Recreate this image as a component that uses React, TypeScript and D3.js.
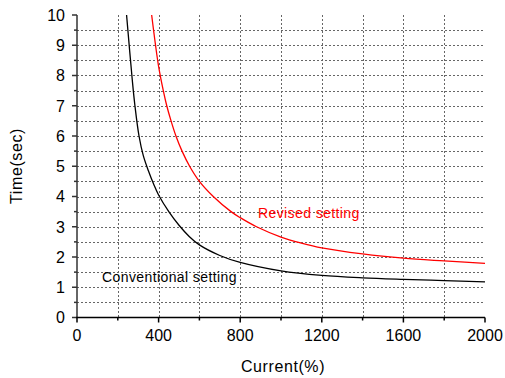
import React from 'react';
import * as d3 from 'd3';

// values
const conventionalCurrent = [243, 271, 284, 304, 325, 350, 375, 400, 450, 500, 550, 600, 700, 800, 1000, 1200, 1400, 1600, 1800, 2000];
const conventionalTime = [10, 7.85, 7.0, 6.0, 5.35, 4.85, 4.42, 4.05, 3.5, 3.05, 2.68, 2.4, 2.05, 1.82, 1.54, 1.39, 1.31, 1.26, 1.22, 1.18];

const revisedCurrent = [366, 400, 423, 440, 461, 485, 515, 552, 600, 668, 755, 800, 880, 1000, 1100, 1200, 1400, 1600, 1800, 2000];
const revisedTime = [10, 8.3, 7.5, 7.0, 6.5, 6.0, 5.5, 5.0, 4.5, 4.0, 3.5, 3.3, 3.0, 2.66, 2.46, 2.3, 2.1, 1.96, 1.87, 1.79];

const xTicks = [0, 400, 800, 1200, 1600, 2000];
const xMinorTicks = [200, 600, 1000, 1400, 1800];
const yTicks = [0, 1, 2, 3, 4, 5, 6, 7, 8, 9, 10];
const yMinorTicks = [0.5, 1.5, 2.5, 3.5, 4.5, 5.5, 6.5, 7.5, 8.5, 9.5];

const W = 505;
const H = 378;
const margin = { top: 15, right: 20, bottom: 60.5, left: 77 };
const FONT = 'Arial, "Liberation Sans", sans-serif';

const App = () => {
    const x = d3.scaleLinear().domain([0, 2000]).range([margin.left, W - margin.right]);
    const y = d3.scaleLinear().domain([0, 10]).range([H - margin.bottom, margin.top]);

    const line = d3.line<[number, number]>()
        .x(d => x(d[0]))
        .y(d => y(d[1]))
        .curve(d3.curveCatmullRom.alpha(0.5));

    const conv = conventionalCurrent.map((c, i) => [c, conventionalTime[i]] as [number, number]);
    const rev = revisedCurrent.map((c, i) => [c, revisedTime[i]] as [number, number]);

    const x0 = x(0), x1 = x(2000), y0 = y(0), y1 = y(10);
    const gridV = [...xTicks, ...xMinorTicks].filter(v => v > 0 && v < 2000);
    const gridH = [...yTicks, ...yMinorTicks].filter(v => v > 0 && v < 10);

    return (
        <svg width={W} height={H} style={{ position: 'absolute', left: 0, top: 0, background: '#fff' }}
             fontFamily={FONT}>
            {/* dotted grid */}
            <g stroke="#666" strokeWidth={1} strokeDasharray="2,2">
                {gridV.map(v => (
                    <line key={'gv' + v} x1={Math.round(x(v)) + 0.5} x2={Math.round(x(v)) + 0.5} y1={y1} y2={y0} />
                ))}
                {gridH.map(v => (
                    <line key={'gh' + v} x1={x0} x2={x1} y1={Math.round(y(v)) + 0.5} y2={Math.round(y(v)) + 0.5} />
                ))}
            </g>

            {/* curves */}
            <path d={line(conv) ?? ''} fill="none" stroke="#000" strokeWidth={1.3} />
            <path d={line(rev) ?? ''} fill="none" stroke="#ff0000" strokeWidth={1.3} />

            {/* left axis */}
            <g stroke="#333" strokeWidth={1.5}>
                <line x1={x0} x2={x0} y1={y1} y2={y0} />
                {yTicks.map(v => <line key={'yt' + v} x1={x0 - 5} x2={x0} y1={y(v)} y2={y(v)} />)}
                {yMinorTicks.map(v => <line key={'ym' + v} x1={x0 - 3} x2={x0} y1={y(v)} y2={y(v)} />)}
            </g>
            {/* bottom axis */}
            <g stroke="#000" strokeWidth={1.5}>
                <line x1={x0 - 0.75} x2={x1} y1={y0} y2={y0} />
                {xTicks.map(v => <line key={'xt' + v} x1={x(v)} x2={x(v)} y1={y0} y2={y0 + 5} />)}
                {xMinorTicks.map(v => <line key={'xm' + v} x1={x(v)} x2={x(v)} y1={y0} y2={y0 + 3} />)}
            </g>

            {/* tick labels */}
            <g fontSize={16} fill="#000">
                {yTicks.map(v => (
                    <text key={'yl' + v} x={x0 - 12} y={y(v)} dy="0.36em" textAnchor="end">{v}</text>
                ))}
                {xTicks.map(v => (
                    <text key={'xl' + v} x={x(v)} y={y0 + 23} textAnchor="middle">{v}</text>
                ))}
            </g>

            {/* axis titles */}
            <text x={283} y={372} fontSize={16} letterSpacing={0.6} textAnchor="middle">Current(%)</text>
            <text transform="translate(22,166) rotate(-90)" fontSize={16} letterSpacing={0.6} textAnchor="middle">Time(sec)</text>

            {/* curve labels */}
            <text x={258} y={218} fontSize={14} letterSpacing={0.4} fill="#ff0000">Revised setting</text>
            <text x={102} y={282} fontSize={14} letterSpacing={0.4} fill="#000">Conventional setting</text>
        </svg>
    );
};

export default App;
